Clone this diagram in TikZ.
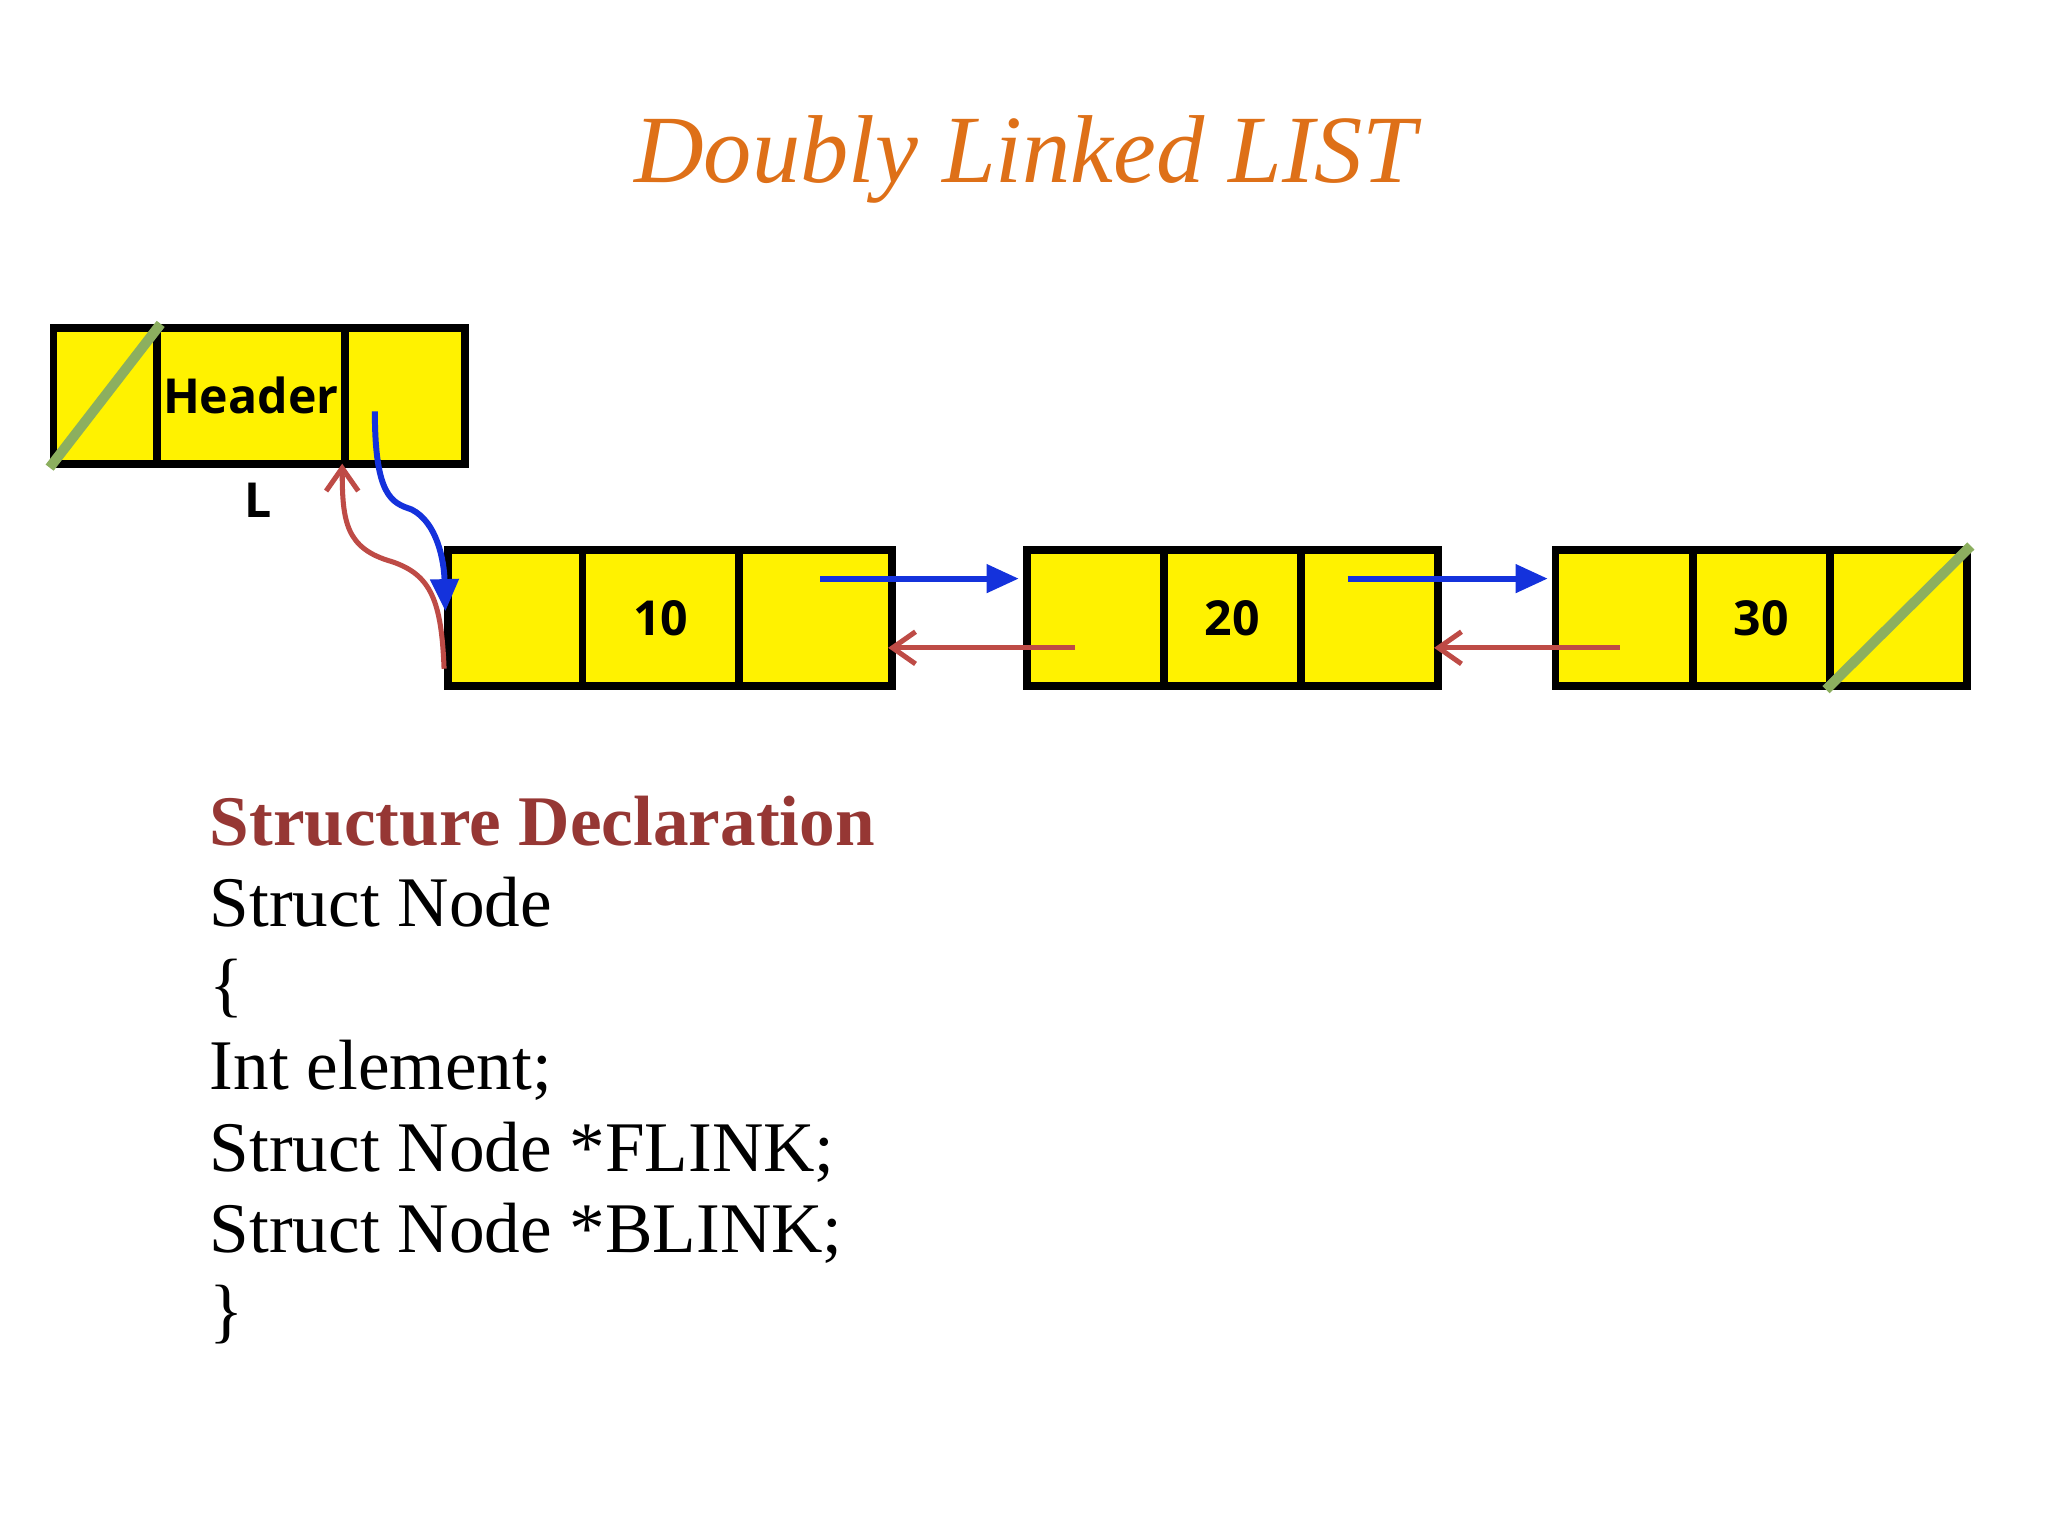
\documentclass[tikz,border=0pt]{standalone}
\usepackage{fontspec}
\setmainfont{Liberation Serif}
\newfontfamily\sansb{Open Sans}
\usetikzlibrary{arrows.meta}
\definecolor{ttl}{RGB}{222,112,24}
\definecolor{decl}{RGB}{150,55,52}
\definecolor{slash}{RGB}{140,175,95}
\definecolor{fl}{RGB}{20,50,220}
\definecolor{bl}{RGB}{190,75,70}
\begin{document}
\begin{tikzpicture}[x=0.01cm,y=-0.01cm,
  cell/.style={draw=black,line width=1.7pt,fill=yellow,inner sep=0,anchor=north west,minimum height=1.04cm},
  lab/.style={font=\sansb\bfseries\fontsize{10.5pt}{12pt}\selectfont},
  fwd/.style={fl,line width=1.3pt,-{Triangle[length=7pt,width=6pt]}},
  bwd/.style={bl,line width=1.1pt,-{Straight Barb[length=5pt,width=7pt]}},
  code/.style={anchor=base west,inner sep=0,font=\fontsize{15.5pt}{18pt}\selectfont}]
\useasboundingbox (0,0) rectangle (1568,1176);
\node[text=ttl,font=\itshape\fontsize{21pt}{24pt}\selectfont] (title) at (785,122) {Doubly Linked LIST};
% header
\node[cell,minimum width=0.79cm] (h1) at (38,248) {};
\node[cell,minimum width=1.44cm] (h2) at (117,248) {};
\node[cell,minimum width=0.92cm] (h3) at (261,248) {};
\node[lab] at (h2.center) {Header};
\node[lab] (L) at (198,383) {L};
\draw[slash,line width=2.2pt] (h1.south west) -- (h1.north east);
% nodes
\foreach \n/\a/\b/\c/\d/\v in {n1/340/443/563/680/10,n2/783/888/993/1098/20,n3/1188/1293/1398/1503/30}{
  \node[cell,minimum width={(\b-\a)*0.01cm}] (\n a) at (\a,418) {};
  \node[cell,minimum width={(\c-\b)*0.01cm}] (\n b) at (\b,418) {};
  \node[cell,minimum width={(\d-\c)*0.01cm}] (\n c) at (\c,418) {};
  \node[lab] at (\n b.center) {\v};
}
\draw[slash,line width=2.2pt] (n3c.south west) -- (n3c.north east);
% arrows
\coordinate (hs) at (287,315);
\coordinate (he) at (341,468);
\draw[fwd] (hs) .. controls (287,380) and (300,385) .. (315,390) .. controls (335,400) and (340,430) .. (he);
\coordinate (bs) at (340,512);
\coordinate (be) at (262,355);
\draw[bwd] (bs) .. controls (338,460) and (330,440) .. (300,430) .. controls (265,420) and (262,400) .. (be);
\coordinate (f1s) at (628,443); \coordinate (f1e) at (780,443);
\coordinate (f2s) at (1032,443); \coordinate (f2e) at (1185,443);
\coordinate (b1s) at (823,496); \coordinate (b1e) at (680,496);
\coordinate (b2s) at (1240,496); \coordinate (b2e) at (1098,496);
\draw[fwd] (f1s) -- (f1e);
\draw[fwd] (f2s) -- (f2e);
\draw[bwd] (b1s) -- (b1e);
\draw[bwd] (b2s) -- (b2e);
% code
\node[code,text=decl,font=\bfseries\fontsize{15.5pt}{18pt}\selectfont] (c0) at (160,647) {Structure Declaration};
\node[code] (c1) at (160,709) {Struct Node};
\node[code] (c2) at (160,772) {\{};
\node[code] (c3) at (160,834) {Int element;};
\node[code] (c4) at (160,897) {Struct Node *FLINK;};
\node[code] (c5) at (160,959) {Struct Node *BLINK;};
\node[code] (c6) at (160,1022) {\}};
\end{tikzpicture}
\end{document}
